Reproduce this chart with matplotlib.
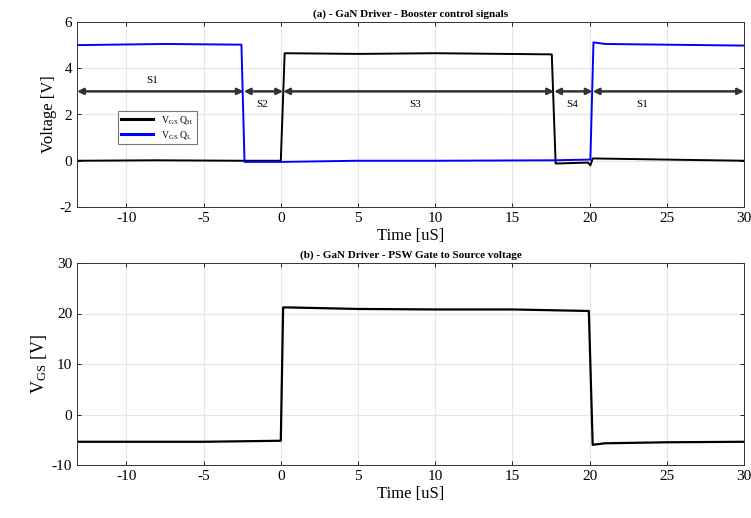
import matplotlib
matplotlib.use('Agg')
import matplotlib.pyplot as plt

plt.rcParams['font.family'] = ['Liberation Serif', 'DejaVu Serif']
plt.rcParams['mathtext.fontset'] = 'stix'
plt.rcParams['axes.unicode_minus'] = False

# waveform breakpoints read from the scope capture (time in uS, volts)
qh_t = [-13.2, -8.0, -2.5, 0.0, 0.25, 5.0, 10.0, 17.55, 17.8, 19.9, 20.05, 20.2, 25.0, 30.0]
qh_v = [0.0, 0.02, 0.0, 0.0, 4.65, 4.62, 4.65, 4.6, -0.12, -0.08, -0.2, 0.1, 0.05, 0.0]

ql_t = [-13.2, -7.5, -2.55, -2.35, 0.0, 5.0, 10.0, 17.6, 20.05, 20.25, 21.0, 30.0]
ql_v = [5.0, 5.05, 5.02, -0.05, -0.05, 0.0, 0.0, 0.02, 0.05, 5.12, 5.05, 4.98]

psw_t = [-13.2, -5.0, 0.0, 0.15, 0.5, 5.0, 10.0, 15.0, 19.95, 20.2, 21.0, 25.0, 30.0]
psw_v = [-5.4, -5.4, -5.2, 21.2, 21.2, 20.9, 20.8, 20.8, 20.5, -6.0, -5.7, -5.5, -5.4]

# state intervals (S1..S4) and labels
seg_edges = [-13.2, -2.4, 0.15, 17.7, 20.2, 30.0]
seg_names = ['S1', 'S2', 'S3', 'S4', 'S1']
seg_label_x = [-8.3, -1.2, 8.7, 18.9, 23.4]
seg_label_y = [3.45, 2.45, 2.45, 2.45, 2.45]

xlim = (-13.2, 30)
xticks = [-10, -5, 0, 5, 10, 15, 20, 25, 30]

fig = plt.figure(figsize=(7.51, 5.18), dpi=100)
ax1 = fig.add_axes([77 / 751, 1 - 207 / 518, 667 / 751, 185 / 518])
ax2 = fig.add_axes([77 / 751, 1 - 465 / 518, 667 / 751, 202 / 518])

ax1.plot(qh_t, qh_v, color='black', lw=1.4, label=r'$\mathregular{V_{GS}\ Q_H}$')
ax1.plot(ql_t, ql_v, color='blue', lw=1.4, label=r'$\mathregular{V_{GS}\ Q_L}$')

for i in range(len(seg_names)):
    ax1.annotate('', xy=(seg_edges[i], 3), xytext=(seg_edges[i + 1], 3),
                 arrowprops=dict(arrowstyle='<|-|>', color='#333333', lw=1.8,
                                 mutation_scale=9, shrinkA=0, shrinkB=0))
    ax1.text(seg_label_x[i], seg_label_y[i], seg_names[i], fontsize=8, ha='center', va='center')

ax1.set_xlim(xlim)
ax1.set_ylim(-2, 6)
ax1.set_xticks(xticks)
ax1.set_yticks([-2, 0, 2, 4, 6])
ax1.set_title('(a) - GaN Driver - Booster control signals', fontsize=8, fontweight='bold', pad=4)
ax1.set_xlabel('Time [uS]', fontsize=12, labelpad=2)
ax1.set_ylabel('Voltage [V]', fontsize=12, labelpad=2)
leg = ax1.legend(loc='upper left', bbox_to_anchor=(0.061, 0.52), fontsize=7, frameon=True,
                 fancybox=False, edgecolor='#555555', handlelength=3.3, borderpad=0.35,
                 labelspacing=0.25, borderaxespad=0)
leg.get_frame().set_linewidth(0.8)
for h in leg.get_lines():
    h.set_linewidth(2.2)

ax2.plot(psw_t, psw_v, color='black', lw=1.6)
ax2.set_xlim(xlim)
ax2.set_ylim(-10, 30)
ax2.set_xticks(xticks)
ax2.set_yticks([-10, 0, 10, 20, 30])
ax2.set_title('(b) - GaN Driver - PSW Gate to Source voltage', fontsize=8, fontweight='bold', pad=4)
ax2.set_xlabel('Time [uS]', fontsize=12, labelpad=2)
ax2.set_ylabel(r'$\mathregular{V_{GS}}$ [V]', fontsize=13, labelpad=2)

for ax in (ax1, ax2):
    ax.grid(True, color='#e6e6e6', lw=0.8)
    ax.set_axisbelow(True)
    ax.tick_params(labelsize=11, direction='in', top=True, right=True, length=3, width=0.6)
    for sp in ax.spines.values():
        sp.set_color('#333333')
        sp.set_linewidth(0.7)

fig.savefig('out.png', dpi=100)
